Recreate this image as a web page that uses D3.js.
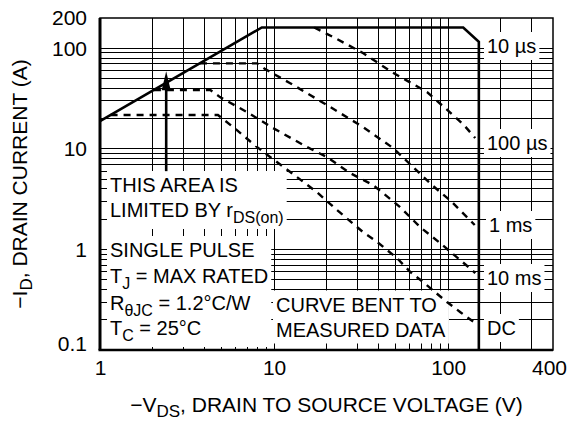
<!DOCTYPE html>
<html>
<head>
<meta charset="utf-8">
<script src="https://cdn.jsdelivr.net/npm/d3@7"></script>
<style>
  body { margin: 0; background: #fff; }
  text { font-family: "Liberation Sans", Arial, Helvetica, sans-serif; fill: #000; }
</style>
</head>
<body>
<svg id="chart" width="568" height="421"></svg>
<script>
// tick labels and grid positions
const xTicks = [1, 10, 100, 400];
const yTicks = [0.1, 1, 10, 100, 200];
const xGrid = [2, 3, 4, 5, 6, 7, 8, 9, 10, 20, 30, 40, 50, 60, 70, 80, 90, 100, 200, 300];
const yGrid = [0.2, 0.3, 0.4, 0.5, 0.6, 0.7, 0.8, 0.9, 1, 2, 3, 4, 5, 6, 7, 8, 9,
               10, 20, 30, 40, 50, 60, 70, 80, 90, 100];

// 10 us envelope: rDS(on) limit, current limit, then voltage limit (solid)
const us10V = [1, 8.5, 122, 150, 150];
const us10I = [18.9, 161, 161, 116, 0.1];

// dashed limits
const us100V = [17, 22.4, 32.4, 47.5, 75.6, 95.9, 123, 143];
const us100I = [161, 126.5, 89.7, 58, 36.7, 25.5, 17.3, 12.8];

const ms1V = [3.75, 8.0, 8.9, 12.3, 20.1, 32.4, 48.2, 62.8, 80.7, 105, 133, 142];
const ms1I = [70.8, 70.8, 62, 45.2, 27.3, 16.5, 10.2, 6.6, 4.37, 2.96, 1.96, 1.75];

const ms10V = [2.04, 4.3, 4.89, 6.99, 9.86, 15.5, 20.1, 27.3, 37, 42.2, 52.9, 68.9, 89.7, 117, 137, 143];
const ms10I = [38.5, 38.5, 32.7, 23.2, 16.1, 10.4, 8.3, 5.75, 4.37, 3.64, 2.64, 1.67, 1.16, 0.785, 0.624, 0.58];

const dcV = [1.15, 4.76, 6.02, 7.83, 9.0, 11.9, 17.6, 23.0, 32.4, 39.0, 50.8, 60.4, 71.7, 84, 98.4, 117, 143];
const dcI = [21.7, 21.7, 15.7, 10.7, 8.9, 6.2, 3.72, 2.46, 1.49, 1.19, 0.82, 0.60, 0.474, 0.377, 0.30, 0.239, 0.185];

// rDS(on) arrow
const arrowV = 2.4;
const arrowI = [6, 59];

const svg = d3.select('#chart');

const x = d3.scaleLog().domain([1, 400]).range([100, 553]);
const y = d3.scaleLog().domain([0.1, 200]).range([350, 18]);

// grid
svg.append('g').selectAll('line')
    .data(xGrid)
    .enter()
    .append('line')
    .attr('x1', d => x(d)).attr('x2', d => x(d))
    .attr('y1', y(0.1)).attr('y2', y(200))
    .attr('stroke', '#000').attr('stroke-width', 1)
    .attr('shape-rendering', 'crispEdges');

svg.append('g').selectAll('line')
    .data(yGrid)
    .enter()
    .append('line')
    .attr('x1', x(1)).attr('x2', x(400))
    .attr('y1', d => y(d)).attr('y2', d => y(d))
    .attr('stroke', '#000').attr('stroke-width', 1)
    .attr('shape-rendering', 'crispEdges');

// axes (labels only)
svg.append('g')
    .attr('transform', `translate(0, ${y(0.1)})`)
    .call(d3.axisBottom(x).tickValues(xTicks).tickFormat(d3.format('~g')).tickSize(0).tickPadding(10))
    .call(g => g.select('.domain').remove())
    .selectAll('text').attr('font-size', 21).attr('font-family', null)
    .attr('dx', d => d === 400 ? -4 : 0);

svg.append('g')
    .attr('transform', `translate(${x(1)}, 0)`)
    .call(d3.axisLeft(y).tickValues(yTicks).tickFormat(d3.format('~g')).tickSize(0).tickPadding(13))
    .call(g => g.select('.domain').remove())
    .selectAll('text').attr('font-size', 21).attr('font-family', null)
    .attr('dy', d => d === 0.1 ? '0em' : '0.32em');

// text with subscripts
function rich(sel, parts, subSize, subShift) {
    let shift = 0;
    parts.forEach(p => {
        const sub = typeof p !== 'string';
        const s = sub ? subShift : 0;
        const t = sel.append('tspan').attr('dy', s - shift).text(sub ? p.sub : p);
        if (sub) t.attr('font-size', subSize);
        shift = s;
    });
}

// annotation block with white background
function note(lines, x0, baselines, pad) {
    const g = svg.append('g');
    const rect = g.append('rect').attr('fill', '#fff');
    lines.forEach((parts, i) => {
        const t = g.append('text').attr('x', x0).attr('y', baselines[i]).attr('font-size', 20);
        rich(t, parts, 16, 6);
    });
    const bb = g.node().getBBox();
    rect.attr('x', bb.x - pad).attr('y', bb.y - pad)
        .attr('width', bb.width + 2 * pad).attr('height', bb.height + 2 * pad);
}

note([['THIS AREA IS'], ['LIMITED BY r', {sub: 'DS(on)'}]], 110, [192, 217], 3);
note([['SINGLE PULSE'], ['T', {sub: 'J'}, ' = MAX RATED'],
      ['R', {sub: 'θJC'}, ' = 1.2°C/W'], ['T', {sub: 'C'}, ' = 25°C']], 110, [257, 283, 310, 335], 3);
note([['CURVE BENT TO'], ['MEASURED DATA']], 276, [311.5, 336.5], 3);

note([['10 µs']], 487, [53], 3);
note([['100 µs']], 487, [150], 3);
note([['1 ms']], 489, [232], 3);
note([['10 ms']], 487, [285], 3);
note([['DC']], 487, [335], 3);

// curves
const line = d3.line().x(d => x(d[0])).y(d => y(d[1]));
const zip = (a, b) => a.map((v, i) => [v, b[i]]);

svg.append('path')
    .attr('d', line(zip(us10V, us10I)))
    .attr('fill', 'none').attr('stroke', '#000').attr('stroke-width', 2.6)
    .attr('stroke-linejoin', 'miter');

[[us100V, us100I], [ms1V, ms1I], [ms10V, ms10I], [dcV, dcI]].forEach(([v, i]) => {
    svg.append('path')
        .attr('d', line(zip(v, i)))
        .attr('fill', 'none').attr('stroke', '#000').attr('stroke-width', 2.4)
        .attr('stroke-dasharray', '7,6');
});

// arrow
const ax = x(arrowV), yTip = y(arrowI[1]);
svg.append('line')
    .attr('x1', ax).attr('x2', ax)
    .attr('y1', y(arrowI[0])).attr('y2', yTip + 10)
    .attr('stroke', '#000').attr('stroke-width', 2.6);
svg.append('path')
    .attr('d', `M${ax - 4.5},${yTip + 19}L${ax},${yTip}L${ax + 4.5},${yTip + 19}Z`)
    .attr('fill', '#000');

// frame
svg.append('rect')
    .attr('x', x(1)).attr('y', y(200))
    .attr('width', x(400) - x(1)).attr('height', y(0.1) - y(200))
    .attr('fill', 'none').attr('stroke', '#000').attr('stroke-width', 1.5);
svg.append('line')
    .attr('x1', x(1)).attr('x2', x(1)).attr('y1', y(200)).attr('y2', y(0.1))
    .attr('stroke', '#000').attr('stroke-width', 3);
svg.append('line')
    .attr('x1', x(1) - 1.5).attr('x2', x(400)).attr('y1', y(0.1)).attr('y2', y(0.1))
    .attr('stroke', '#000').attr('stroke-width', 2.5);

// axis titles
const xt = svg.append('text')
    .attr('x', (x(1) + x(400)) / 2).attr('y', 412)
    .attr('text-anchor', 'middle').attr('font-size', 21);
rich(xt, ['−V', {sub: 'DS'}, ', DRAIN TO SOURCE VOLTAGE (V)'], 17, 5);

const yt = svg.append('text')
    .attr('transform', `translate(27, ${(y(0.1) + y(200)) / 2}) rotate(-90)`)
    .attr('text-anchor', 'middle').attr('font-size', 21);
rich(yt, ['−I', {sub: 'D'}, ', DRAIN CURRENT (A)'], 17, 5);
</script>
</body>
</html>
